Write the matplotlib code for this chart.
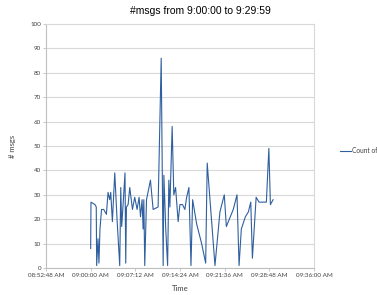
import matplotlib
matplotlib.use('Agg')
import matplotlib.pyplot as plt
import matplotlib.dates as mdates
import pandas as pd

# data
times = ['09:00:00', '09:00:03', '09:00:42', '09:00:54', '09:00:58', '09:01:11',
         '09:01:20', '09:01:30', '09:01:45', '09:02:06', '09:02:32', '09:02:48',
         '09:03:04', '09:03:14', '09:03:30', '09:03:53', '09:04:15', '09:04:41',
         '09:04:51', '09:05:00', '09:05:12', '09:05:32', '09:05:39', '09:05:46',
         '09:06:02', '09:06:18', '09:06:44', '09:07:06', '09:07:29', '09:07:48',
         '09:08:02', '09:08:17', '09:08:27', '09:08:34', '09:08:43', '09:09:00',
         '09:09:38', '09:10:04', '09:10:52', '09:11:22', '09:11:41', '09:11:48',
         '09:12:06', '09:12:24', '09:12:36', '09:12:46', '09:13:08', '09:13:24',
         '09:13:41', '09:14:06', '09:14:23', '09:14:48', '09:15:11', '09:15:28',
         '09:15:50', '09:16:10', '09:16:26', '09:17:05', '09:17:53', '09:18:32',
         '09:18:47', '09:20:02', '09:20:50', '09:21:32', '09:21:52', '09:22:59',
         '09:23:35', '09:23:55', '09:24:17', '09:24:56', '09:25:25', '09:25:48',
         '09:26:04', '09:26:40', '09:27:08', '09:28:19', '09:28:43', '09:28:58',
         '09:29:24']
counts = [8, 27, 26, 25, 1, 12,
          2, 16, 24, 24, 22, 31,
          28, 31, 19, 39, 20, 1,
          33, 17, 25, 39, 2, 25,
          26, 33, 24, 29, 24, 29,
          21, 28, 16, 28, 1, 28,
          36, 24, 25, 86, 1, 38,
          16, 1, 36, 25, 58, 30,
          33, 19, 26, 26, 24, 29,
          33, 1, 28, 18, 10, 2,
          43, 1, 23, 30, 17, 24,
          30, 1, 16, 21, 23, 27,
          4, 29, 27, 27, 49, 26,
          28]
tick_times = ['08:52:48', '09:00:00', '09:07:12', '09:14:24',
              '09:21:36', '09:28:48', '09:36:00']
series_name = 'Count of Messages'

day = '2020-01-01 '
t = pd.to_datetime([day + s for s in times])
ticks = pd.to_datetime([day + s for s in tick_times])

fig = plt.figure(figsize=(3.77, 2.95), dpi=100)
ax = fig.add_axes([0.122, 0.0915, 0.711, 0.827])

ax.plot(t, counts, color='#2f5f9e', linewidth=0.8, label=series_name)

ax.set_ylim(0, 100)
ax.set_yticks(range(0, 101, 10))
ax.set_xlim(ticks[0], ticks[-1])
ax.set_xticks(ticks)
ax.xaxis.set_major_formatter(mdates.DateFormatter('%I:%M:%S %p'))

ax.grid(axis='y', color='#d9d9d9', linewidth=0.8)
ax.set_axisbelow(True)
for sp in ax.spines.values():
    sp.set_color('#d9d9d9')
    sp.set_linewidth(0.8)
ax.spines['left'].set_color('#bfbfbf')
ax.spines['bottom'].set_color('#bfbfbf')
ax.tick_params(axis='both', labelsize=4.5, colors='#404040', length=2,
               width=0.6, pad=1.5)
ax.tick_params(axis='both', color='#bfbfbf')
for lab in ax.get_xticklabels() + ax.get_yticklabels():
    lab.set_family('Lato')

fig.text(0.532, 0.963, '#msgs from 9:00:00 to 9:29:59', fontsize=7.5,
         family='Liberation Sans', ha='center', va='center')
ax.set_xlabel('Time', fontsize=5.5, color='#404040', labelpad=5,
              family='Lato')
ax.set_ylabel('# msgs', fontsize=5.5, color='#404040', labelpad=10,
              family='Lato')

leg = fig.legend(loc='center left', bbox_to_anchor=(0.902, 0.49),
                 frameon=False, handlelength=1.6,
                 handletextpad=0.2, borderpad=0, borderaxespad=0,
                 prop={'family': 'Lato', 'size': 4.8})
for txt in leg.get_texts():
    txt.set_color('#404040')

fig.savefig('out.png', dpi=100)
